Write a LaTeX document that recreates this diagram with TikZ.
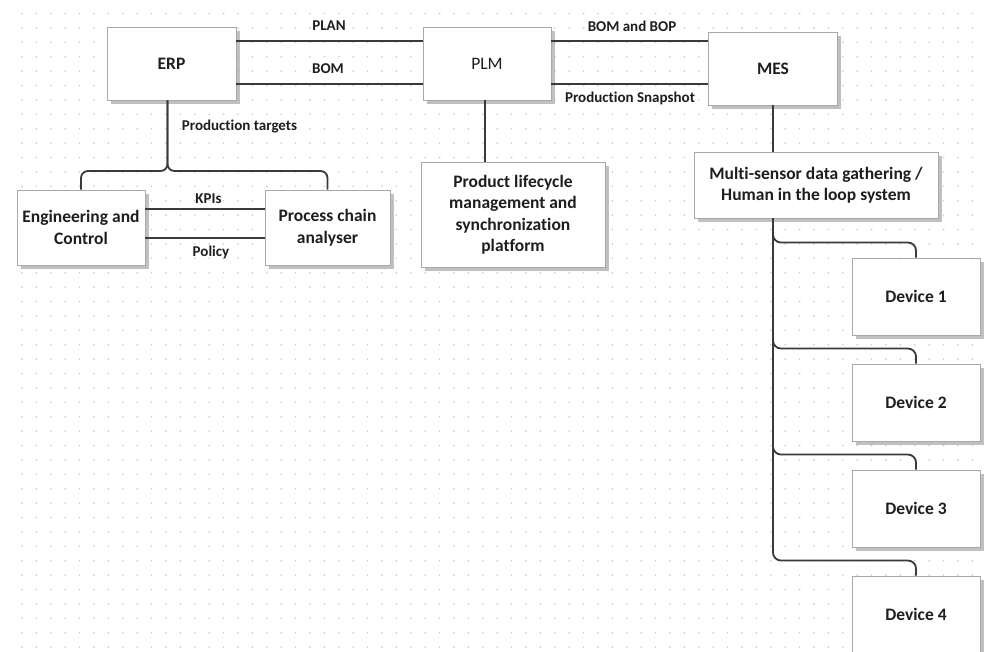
\documentclass[tikz,border=0pt]{standalone}
\usepackage{fontspec}
\setmainfont{Carlito}[Ligatures={NoCommon}]
\usetikzlibrary{shadows}

\definecolor{linecol}{HTML}{3A3A3A}
\definecolor{boxline}{HTML}{A8A8A8}
\definecolor{gridcol}{HTML}{C9C9DD}
\definecolor{txtcol}{HTML}{1E1E1E}

\tikzset{
  block/.style={draw=boxline, line width=0.9pt, fill=white, rectangle,
    align=center, text=txtcol, inner sep=2pt,
    font=\fontsize{17.5}{21.5}\selectfont\bfseries,
    drop shadow={shadow xshift=3.5pt, shadow yshift=-3.5pt, fill=black!35, opacity=0.7}},
  plainblock/.style={block, font=\fontsize{17.5}{21.5}\selectfont},
  conn/.style={draw=linecol, line width=1.8pt},
  lbl/.style={text=txtcol, font=\fontsize{15}{17}\selectfont\bfseries, inner sep=1pt},
}

\begin{document}
\begin{tikzpicture}[x=1pt, y=-1pt]
  % page and dotted canvas
  \useasboundingbox (0,0) rectangle (985,651);
  \fill[white] (0,0) rectangle (985,651);
  \clip (0,0) rectangle (985,651);
  \foreach \gx in {0,...,66} {
    \foreach \gy in {0,...,44} {
      \fill[gridcol] (22+\gx*14.4, 13.5+\gy*14.4) circle (0.9pt);
    }
  }

  % top row
  \node[block, minimum width=129pt, minimum height=73pt] (erp) at (171.5,63.5) {ERP};
  \node[plainblock, minimum width=128pt, minimum height=73pt] (plm) at (487,63.5) {PLM};
  \node[block, minimum width=129pt, minimum height=73pt] (mes) at (773,68.5) {MES};

  % second row
  \node[block, minimum width=128pt, minimum height=75pt] (eng) at (81,227.5) {Engineering and\\Control};
  \node[block, minimum width=125pt, minimum height=75pt] (pca) at (327.5,227.5) {Process chain\\analyser};
  \node[block, minimum width=184pt, minimum height=105pt] (plc) at (513,214.5)
    {Product lifecycle\\management and\\synchronization\\platform};
  \node[block, minimum width=244pt, minimum height=66pt] (msd) at (816,185)
    {Multi-sensor data gathering /\\Human in the loop system};

  % devices
  \node[block, minimum width=128pt, minimum height=77pt] (dev1) at (916,296.5) {Device 1};
  \node[block, minimum width=128pt, minimum height=77pt] (dev2) at (916,402.5) {Device 2};
  \node[block, minimum width=128pt, minimum height=77pt] (dev3) at (916,508.5) {Device 3};
  \node[block, minimum width=128pt, minimum height=77pt] (dev4) at (916,614.5) {Device 4};

  % ERP <-> PLM
  \draw[conn] ([yshift=22.5pt]erp.east) -- ([yshift=22.5pt]plm.west);
  \draw[conn] ([yshift=-20.5pt]erp.east) -- ([yshift=-20.5pt]plm.west);
  \node[lbl] (lplan) at (329,26) {PLAN};
  \node[lbl] (lbom) at (328,69) {BOM};

  % PLM <-> MES
  \draw[conn] ([yshift=22.5pt]plm.east) -- ([yshift=22.5pt]plm.east -| mes.west);
  \draw[conn] ([yshift=-20.5pt]plm.east) -- ([yshift=-20.5pt]plm.east -| mes.west);
  \node[lbl] (lbb) at (632,26) {BOM and BOP};
  \node[lbl] (lsnap) at (630,98) {Production Snapshot};

  % ERP down to engineering and analyser
  \coordinate (jt) at ([xshift=-4pt]erp.south |- 0,171);
  \draw[conn, rounded corners=7pt] ([xshift=-4pt]erp.south) -- (jt) -| (eng.north);
  \draw[conn, rounded corners=7pt] ([xshift=-4pt]erp.south) -- (jt) -| (pca.north);
  \node[lbl] (ltarget) at (239.5,127) {Production targets};

  % engineering <-> analyser
  \draw[conn] ([yshift=18.5pt]eng.east) -- ([yshift=18.5pt]pca.west);
  \draw[conn] ([yshift=-10.5pt]eng.east) -- ([yshift=-10.5pt]pca.west);
  \node[lbl] (lkpi) at (208.5,199) {KPIs};
  \node[lbl] (lpol) at (211,252) {Policy};

  % PLM down to platform
  \draw[conn] ([xshift=-2pt]plm.south) -- ([xshift=-2pt]plm.south |- plc.north);

  % MES down to sensing system
  \draw[conn] (mes.south) -- (mes.south |- msd.north);

  % trunk to the devices
  \coordinate (tr) at (mes.south |- msd.south);
  \foreach \d in {dev1,dev2,dev3,dev4} {
    \draw[conn, rounded corners=8pt] (tr) |- ([yshift=15pt]\d.north) -- (\d.north);
  }
\end{tikzpicture}
\end{document}
